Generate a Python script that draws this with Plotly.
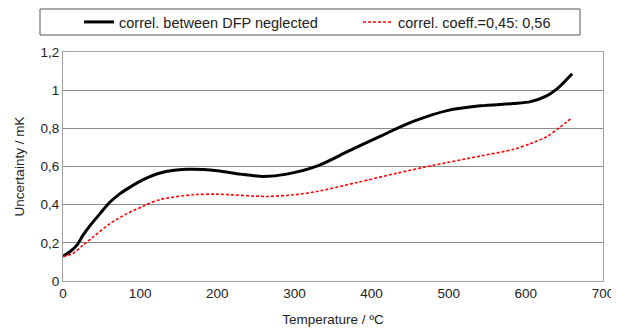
import plotly.graph_objects as go

temp_black = [0, 9, 18, 26, 35, 48, 61, 74, 87, 104, 126, 160, 200, 230, 260, 290, 330, 370, 411, 454, 498, 541, 584, 606, 627, 640, 660]
unc_black = [0.13, 0.153, 0.188, 0.24, 0.29, 0.353, 0.414, 0.458, 0.492, 0.531, 0.566, 0.585, 0.578, 0.56, 0.548, 0.56, 0.603, 0.68, 0.758, 0.836, 0.893, 0.918, 0.93, 0.94, 0.97, 1.005, 1.086]

temp_red = [0, 13, 26, 39, 61, 83, 104, 126, 169, 200, 264, 300, 329, 380, 433, 476, 541, 584, 606, 627, 644, 660]
unc_red = [0.128, 0.145, 0.188, 0.231, 0.301, 0.353, 0.392, 0.427, 0.452, 0.455, 0.443, 0.452, 0.469, 0.515, 0.565, 0.603, 0.655, 0.69, 0.72, 0.756, 0.805, 0.857]

name_black = "correl. between DFP neglected"
name_red = "correl. coeff.=0,45: 0,56"

FONT = "Liberation Sans, Arial, sans-serif"
# page body has an 8px margin, so the figure is drawn 8px in from the top-left
OFF = 8
W, H = 619 - OFF, 331 - OFF
L, R, T, B = 63 - OFF, 16, 52 - OFF, 50

fig = go.Figure()
fig.add_trace(go.Scatter(x=temp_black, y=unc_black, mode="lines", name=name_black, legend="legend",
                         line=dict(color="black", width=3, shape="spline", smoothing=0.8)))
fig.add_trace(go.Scatter(x=temp_red, y=unc_red, mode="lines", name=name_red, legend="legend2",
                         line=dict(color="#ff0000", width=1.6, dash="3px,2px", shape="spline", smoothing=0.8)))

leg_common = dict(orientation="h", xref="container", yref="container", xanchor="left",
                  yanchor="middle", y=1 - (22 - OFF) / H,
                  font=dict(size=14.5, color="#222"), bgcolor="rgba(0,0,0,0)", itemwidth=30)

fig.update_layout(
    width=W, height=H,
    margin=dict(l=L, r=R, t=T, b=B, autoexpand=False),
    paper_bgcolor="white", plot_bgcolor="white",
    font=dict(family=FONT, size=13, color="#222"),
    separators=",.",
    showlegend=True,
    legend=dict(**leg_common, x=(89 - OFF - 10) / W),
    legend2=dict(**leg_common, x=(368 - OFF - 10) / W),
    xaxis=dict(range=[0, 700], tickvals=[0, 100, 200, 300, 400, 500, 600, 700],
               showgrid=False, zeroline=False, showline=True, linecolor="#a0a0a0", linewidth=1,
               mirror=True, ticks="", tickfont=dict(size=13.5), automargin=False,
               title=dict(text="Temperature / ºC", font=dict(size=13.5), standoff=14)),
    yaxis=dict(range=[0, 1.2], tickvals=[0, 0.2, 0.4, 0.6, 0.8, 1, 1.2],
               ticktext=["0", "0,2", "0,4", "0,6", "0,8", "1", "1,2"],
               showgrid=True, gridcolor="#8c8c8c", gridwidth=1, zeroline=False,
               showline=True, linecolor="#a0a0a0", linewidth=1, mirror=True, ticks="",
               tickfont=dict(size=13.5), automargin=False,
               title=dict(text="Uncertainty / mK", font=dict(size=13.5), standoff=12)),
)

pw, ph = W - L - R, H - T - B
fig.add_shape(type="rect", xref="paper", yref="paper",
              x0=(40 - OFF - L) / pw, x1=(580 - OFF - L) / pw,
              y0=(H - B - (35 - OFF)) / ph, y1=(H - B - (9 - OFF)) / ph,
              line=dict(color="#555", width=1), fillcolor="rgba(0,0,0,0)", layer="above")

fig.write_html("out.html")
